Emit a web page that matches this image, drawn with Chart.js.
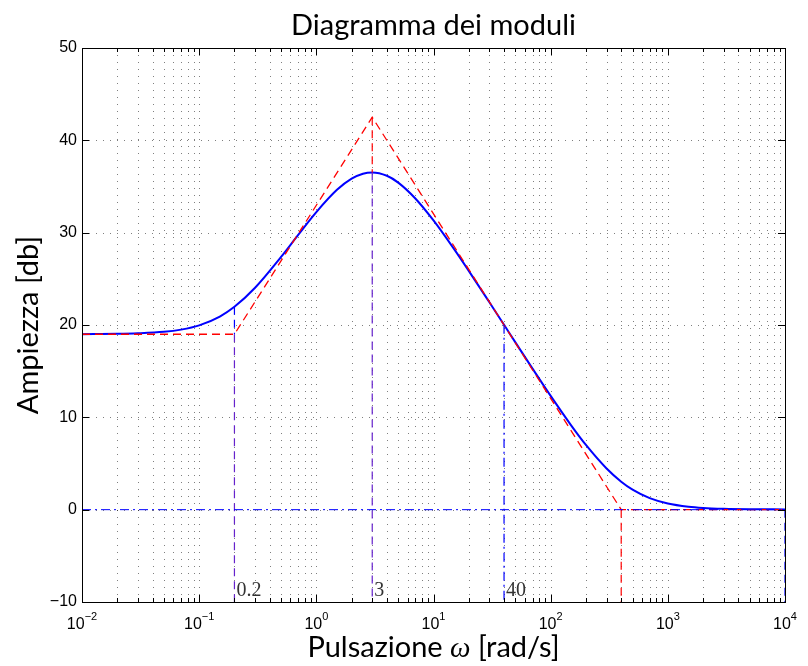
<!DOCTYPE html>
<html>
<head>
<meta charset="utf-8">
<script src="https://cdn.jsdelivr.net/npm/chart.js@4.4.0/dist/chart.umd.min.js"></script>
<style>
  html, body { margin: 0; padding: 0; background: #fff; }
</style>
</head>
<body>
<canvas id="bode" width="808" height="666"></canvas>
<script>
// ===== values =====
let omega  = [0.01, 0.02, 0.03, 0.05, 0.07, 0.1, 0.15, 0.2, 0.3, 0.5, 0.7, 1, 1.5, 2, 2.5, 3, 4, 5, 7, 10,
              15, 20, 30, 40, 50, 70, 100, 150, 200, 300, 400, 500, 700, 1000, 1500, 2000, 3000, 5000, 10000];
let modulo = [19.01, 19.04, 19.10, 19.26, 19.50, 19.96, 20.92, 21.97, 24.03, 27.37, 29.76, 32.23, 34.64, 35.85, 36.39, 36.52, 36.16, 35.42, 33.70, 31.32,
              28.21, 25.86, 22.46, 20.02, 18.12, 15.28, 12.32, 9.11, 7.01, 4.46, 3.03, 2.17, 1.25, 0.67, 0.32, 0.19, 0.10, 0.05, 0.03];

// asymptotic (red dashed)
let asintW  = [0.01, 0.2, 3, 400, 10000];
let asintDb = [19, 19, 42.5, 0, 0];

// vertical guides at the break frequencies
let guideW    = [0.2, 0.2, 3, 3, 40, 400, 10000];
let guideFrom = [21.97, 19, 42.5, 36.52, 20.02, 0, 0];
let guideTo   = [19, -10, 36.52, -10, -10, -10, -10];
let guideKind = ['blue', 'purple', 'red', 'purple', 'bluedot', 'red', 'blue'];

let breakW     = [0.2, 3, 40];
let breakLabel = ['0.2', '3', '40'];

let yTicks = [-10, 0, 10, 20, 30, 40, 50];
let xDecades = [-2, -1, 0, 1, 2, 3, 4];

// ===== styles =====
const styles = {
    blue:    { color: '#0000ff', dash: [8, 5] },
    purple:  { color: '#6622cc', dash: [8, 5] },
    red:     { color: '#ff0000', dash: [8, 5] },
    bluedot: { color: '#0000ff', dash: [9, 4, 2, 4] }
};

let datasets = [];
// zero line
datasets.push({
    data: [{x: 0.01, y: 0}, {x: 10000, y: 0}],
    borderColor: '#0000ff', borderWidth: 1, borderDash: [9, 4, 2, 4],
    pointRadius: 0, fill: false
});
guideW.forEach(function(w, i){
    let s = styles[guideKind[i]];
    datasets.push({
        data: [{x: w, y: guideFrom[i]}, {x: w, y: guideTo[i]}],
        borderColor: s.color, borderWidth: 1.2, borderDash: s.dash,
        pointRadius: 0, fill: false
    });
});
datasets.push({
    data: asintW.map((w, i) => ({x: w, y: asintDb[i]})),
    borderColor: '#ff0000', borderWidth: 1.3, borderDash: [8, 5],
    pointRadius: 0, fill: false
});
datasets.push({
    data: omega.map((w, i) => ({x: w, y: modulo[i]})),
    borderColor: '#0000ff', borderWidth: 2,
    cubicInterpolationMode: 'monotone',
    pointRadius: 0, fill: false
});

const SANS = 'Lato, "Open Sans", sans-serif';
const NUM = '"Liberation Sans", Arial, sans-serif';

// ===== matlab-like frame, grid, ticks and text =====
const matlabFrame = {
    id: 'matlabFrame',
    beforeDatasetsDraw(chart) {
        const c = chart.ctx, a = chart.chartArea;
        const xs = chart.scales.x, ys = chart.scales.y;
        c.save();
        c.strokeStyle = 'rgba(0,0,0,0.5)';
        c.lineWidth = 1;
        c.setLineDash([1, 6]);
        for (let k = -2; k < 4; k++) {
            for (let m = 1; m < 10; m++) {
                if (k === -2 && m === 1) continue;
                let px = Math.round(xs.getPixelForValue(m * Math.pow(10, k))) + 0.5;
                c.beginPath(); c.moveTo(px, a.top); c.lineTo(px, a.bottom); c.stroke();
            }
        }
        yTicks.forEach(function(v){
            if (v === -10 || v === 50) return;
            let py = Math.round(ys.getPixelForValue(v)) + 0.5;
            c.beginPath(); c.moveTo(a.left, py); c.lineTo(a.right, py); c.stroke();
        });
        c.restore();
    },
    afterDatasetsDraw(chart) {
        const c = chart.ctx, a = chart.chartArea;
        const xs = chart.scales.x, ys = chart.scales.y;
        c.save();
        c.setLineDash([]);
        c.strokeStyle = '#000';
        c.lineWidth = 1;
        c.strokeRect(Math.round(a.left) + 0.5, Math.round(a.top) + 0.5,
                     Math.round(a.right - a.left), Math.round(a.bottom - a.top));
        // x ticks
        for (let k = -2; k <= 4; k++) {
            for (let m = 1; m < 10; m++) {
                if (k === 4 && m > 1) break;
                let px = Math.round(xs.getPixelForValue(m * Math.pow(10, k))) + 0.5;
                let len = m === 1 ? 7 : 4;
                c.beginPath();
                c.moveTo(px, a.bottom); c.lineTo(px, a.bottom - len);
                c.moveTo(px, a.top); c.lineTo(px, a.top + len);
                c.stroke();
            }
        }
        // y ticks
        yTicks.forEach(function(v){
            let py = Math.round(ys.getPixelForValue(v)) + 0.5;
            c.beginPath();
            c.moveTo(a.left, py); c.lineTo(a.left + 7, py);
            c.moveTo(a.right, py); c.lineTo(a.right - 7, py);
            c.stroke();
        });
        // y tick labels
        c.fillStyle = '#000';
        c.font = '16px ' + NUM;
        c.textAlign = 'right';
        c.textBaseline = 'middle';
        yTicks.forEach(function(v){
            let py = ys.getPixelForValue(v);
            c.fillText(String(v).replace('-', '\u2212'), a.left - 5, py);
        });
        // x tick labels 10^k
        c.textAlign = 'left';
        c.textBaseline = 'alphabetic';
        xDecades.forEach(function(k){
            let px = xs.getPixelForValue(Math.pow(10, k));
            let ex = String(k).replace('-', '\u2212');
            c.font = '16px ' + NUM;
            let w1 = c.measureText('10').width;
            c.font = '11px ' + NUM;
            let w2 = c.measureText(ex).width;
            let x0 = px - (w1 + w2) / 2;
            c.font = '16px ' + NUM;
            c.fillText('10', x0, a.bottom + 27);
            c.font = '11px ' + NUM;
            c.fillText(ex, x0 + w1, a.bottom + 18);
        });
        // break labels
        c.fillStyle = '#333';
        c.font = '20px "Liberation Serif", "DejaVu Serif", serif';
        breakW.forEach(function(w, i){
            let px = xs.getPixelForValue(w);
            c.fillText(breakLabel[i], px + 2, a.bottom - 6);
        });
        // title
        c.fillStyle = '#000';
        c.textAlign = 'center';
        c.font = '29px ' + SANS;
        c.fillText('Diagramma dei moduli', (a.left + a.right) / 2, 35);
        // x label with italic omega
        let cx = (a.left + a.right) / 2;
        let p1 = 'Pulsazione ', p2 = '\u03c9', p3 = ' [rad/s]';
        c.font = '29px ' + SANS;
        let w1 = c.measureText(p1).width, w3 = c.measureText(p3).width;
        c.font = 'italic 29px "Liberation Serif", serif';
        let w2 = c.measureText(p2).width;
        let sx = cx - (w1 + w2 + w3) / 2;
        c.textAlign = 'left';
        c.font = '29px ' + SANS;
        c.fillText(p1, sx, 657);
        c.font = 'italic 29px "Liberation Serif", serif';
        c.fillText(p2, sx + w1, 657);
        c.font = '29px ' + SANS;
        c.fillText(p3, sx + w1 + w2, 657);
        // y label
        c.translate(38, (a.top + a.bottom) / 2);
        c.rotate(-Math.PI / 2);
        c.textAlign = 'center';
        c.fillText('Ampiezza [db]', 0, 0);
        c.restore();
    }
};

const ctx = document.getElementById('bode').getContext('2d');
const bode = new Chart(ctx, {
    type: 'line',
    data: { datasets: datasets },
    options: {
        responsive: false,
        animation: false,
        layout: { padding: { left: 82, right: 23, top: 48, bottom: 64 } },
        scales: {
            x: { type: 'logarithmic', min: 0.01, max: 10000, display: false },
            y: { type: 'linear', min: -10, max: 50, display: false }
        },
        plugins: {
            legend: { display: false },
            tooltip: { enabled: false }
        }
    },
    plugins: [matlabFrame]
});
</script>
</body>
</html>
